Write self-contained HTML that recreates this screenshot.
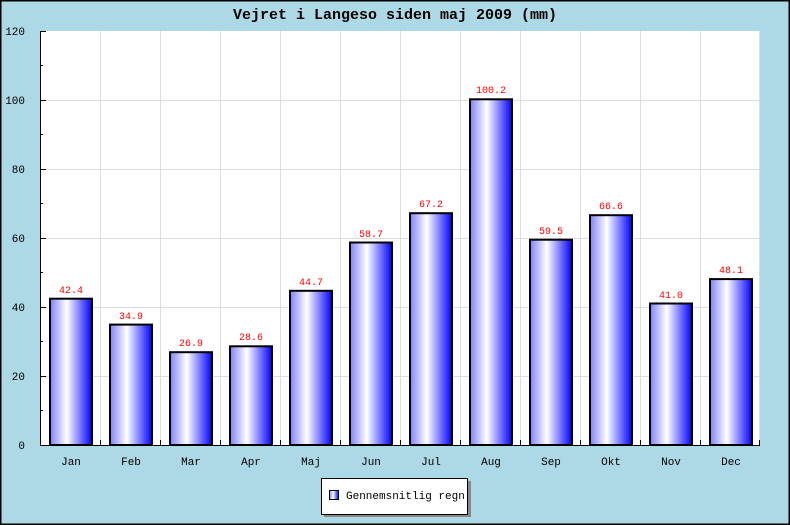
<!DOCTYPE html>
<html><head><meta charset="utf-8"><style>
html,body{margin:0;padding:0;background:#add8e6}
svg{display:block}
text{font-family:"Liberation Mono","DejaVu Sans Mono",monospace}
</style></head><body>
<svg width="790" height="525" xmlns="http://www.w3.org/2000/svg">
<defs>
<linearGradient id="g" x1="0" x2="1" y1="0" y2="0">
<stop offset="0" stop-color="#8080ff"/>
<stop offset="0.4" stop-color="#ffffff"/>
<stop offset="1" stop-color="#0000ff"/>
</linearGradient>
</defs>
<rect x="0.5" y="0.5" width="789" height="524" fill="#add8e6" stroke="#000" stroke-width="2"/>
<text x="395" y="19" font-size="15" font-weight="bold" text-anchor="middle">Vejret i Langeso siden maj 2009 (mm)</text>
<rect x="41" y="31" width="719" height="414" fill="#fff"/>
<g stroke="#ddd" stroke-width="1">
<line x1="41" x2="760" y1="100.5" y2="100.5"/><line x1="41" x2="760" y1="169.5" y2="169.5"/>
<line x1="41" x2="760" y1="238.5" y2="238.5"/><line x1="41" x2="760" y1="307.5" y2="307.5"/>
<line x1="41" x2="760" y1="376.5" y2="376.5"/>
<line x1="100.5" x2="100.5" y1="31" y2="445"/><line x1="160.5" x2="160.5" y1="31" y2="445"/>
<line x1="220.5" x2="220.5" y1="31" y2="445"/><line x1="280.5" x2="280.5" y1="31" y2="445"/>
<line x1="340.5" x2="340.5" y1="31" y2="445"/><line x1="400.5" x2="400.5" y1="31" y2="445"/>
<line x1="460.5" x2="460.5" y1="31" y2="445"/><line x1="520.5" x2="520.5" y1="31" y2="445"/>
<line x1="580.5" x2="580.5" y1="31" y2="445"/><line x1="640.5" x2="640.5" y1="31" y2="445"/>
<line x1="700.5" x2="700.5" y1="31" y2="445"/><line x1="759.5" x2="759.5" y1="31" y2="445"/>
</g>
<g fill="url(#g)" stroke="#000" stroke-width="2">
<rect x="50" y="298.7" width="42" height="146.3"/>
<rect x="110" y="324.6" width="42" height="120.4"/>
<rect x="170" y="352.2" width="42" height="92.8"/>
<rect x="230" y="346.3" width="42" height="98.7"/>
<rect x="290" y="290.8" width="42" height="154.2"/>
<rect x="350" y="242.5" width="42" height="202.5"/>
<rect x="410" y="213.2" width="42" height="231.8"/>
<rect x="470" y="99.3" width="42" height="345.7"/>
<rect x="530" y="239.7" width="42" height="205.3"/>
<rect x="590" y="215.2" width="42" height="229.8"/>
<rect x="650" y="303.5" width="42" height="141.5"/>
<rect x="710" y="279.1" width="42" height="165.9"/>
</g>
<g fill="#f00" font-size="10" text-anchor="middle">
<text x="71" y="293">42.4</text><text x="131" y="319">34.9</text><text x="191" y="346">26.9</text>
<text x="251" y="340">28.6</text><text x="311" y="285">44.7</text><text x="371" y="237">58.7</text>
<text x="431" y="207">67.2</text><text x="491" y="93">100.2</text><text x="551" y="234">59.5</text>
<text x="611" y="209">66.6</text><text x="671" y="298">41.0</text><text x="731" y="273">48.1</text>
</g>
<g stroke="#000" stroke-width="1">
<line x1="40.5" x2="40.5" y1="31" y2="446"/>
<line x1="40" x2="760" y1="445.5" y2="445.5"/>
<line x1="40" x2="46" y1="31.5" y2="31.5"/><line x1="40" x2="46" y1="100.5" y2="100.5"/>
<line x1="40" x2="46" y1="169.5" y2="169.5"/><line x1="40" x2="46" y1="238.5" y2="238.5"/>
<line x1="40" x2="46" y1="307.5" y2="307.5"/><line x1="40" x2="46" y1="376.5" y2="376.5"/>
<line x1="40" x2="43" y1="65.5" y2="65.5"/><line x1="40" x2="43" y1="134.5" y2="134.5"/>
<line x1="40" x2="43" y1="203.5" y2="203.5"/><line x1="40" x2="43" y1="272.5" y2="272.5"/>
<line x1="40" x2="43" y1="341.5" y2="341.5"/><line x1="40" x2="43" y1="410.5" y2="410.5"/>
<line x1="100.5" x2="100.5" y1="440" y2="445"/><line x1="160.5" x2="160.5" y1="440" y2="445"/>
<line x1="220.5" x2="220.5" y1="440" y2="445"/><line x1="280.5" x2="280.5" y1="440" y2="445"/>
<line x1="340.5" x2="340.5" y1="440" y2="445"/><line x1="400.5" x2="400.5" y1="440" y2="445"/>
<line x1="460.5" x2="460.5" y1="440" y2="445"/><line x1="520.5" x2="520.5" y1="440" y2="445"/>
<line x1="580.5" x2="580.5" y1="440" y2="445"/><line x1="640.5" x2="640.5" y1="440" y2="445"/>
<line x1="700.5" x2="700.5" y1="440" y2="445"/><line x1="759.5" x2="759.5" y1="440" y2="445"/>
</g>
<g font-size="11" text-anchor="end">
<text x="25" y="35">120</text><text x="25" y="104">100</text><text x="25" y="173">80</text>
<text x="25" y="242">60</text><text x="25" y="311">40</text><text x="25" y="380">20</text>
<text x="25" y="449">0</text>
</g>
<g font-size="11" text-anchor="middle">
<text x="71" y="465">Jan</text><text x="131" y="465">Feb</text><text x="191" y="465">Mar</text>
<text x="251" y="465">Apr</text><text x="311" y="465">Maj</text><text x="371" y="465">Jun</text>
<text x="431" y="465">Jul</text><text x="491" y="465">Aug</text><text x="551" y="465">Sep</text>
<text x="611" y="465">Okt</text><text x="671" y="465">Nov</text><text x="731" y="465">Dec</text>
</g>
<rect x="324" y="481" width="147" height="36" fill="#888"/>
<rect x="321.5" y="478.5" width="146" height="36" fill="#fff" stroke="#000"/>
<rect x="329.5" y="490.5" width="9" height="9" fill="url(#g)" stroke="#000"/>
<text x="346" y="499" font-size="11">Gennemsnitlig regn</text>
</svg>
</body></html>
